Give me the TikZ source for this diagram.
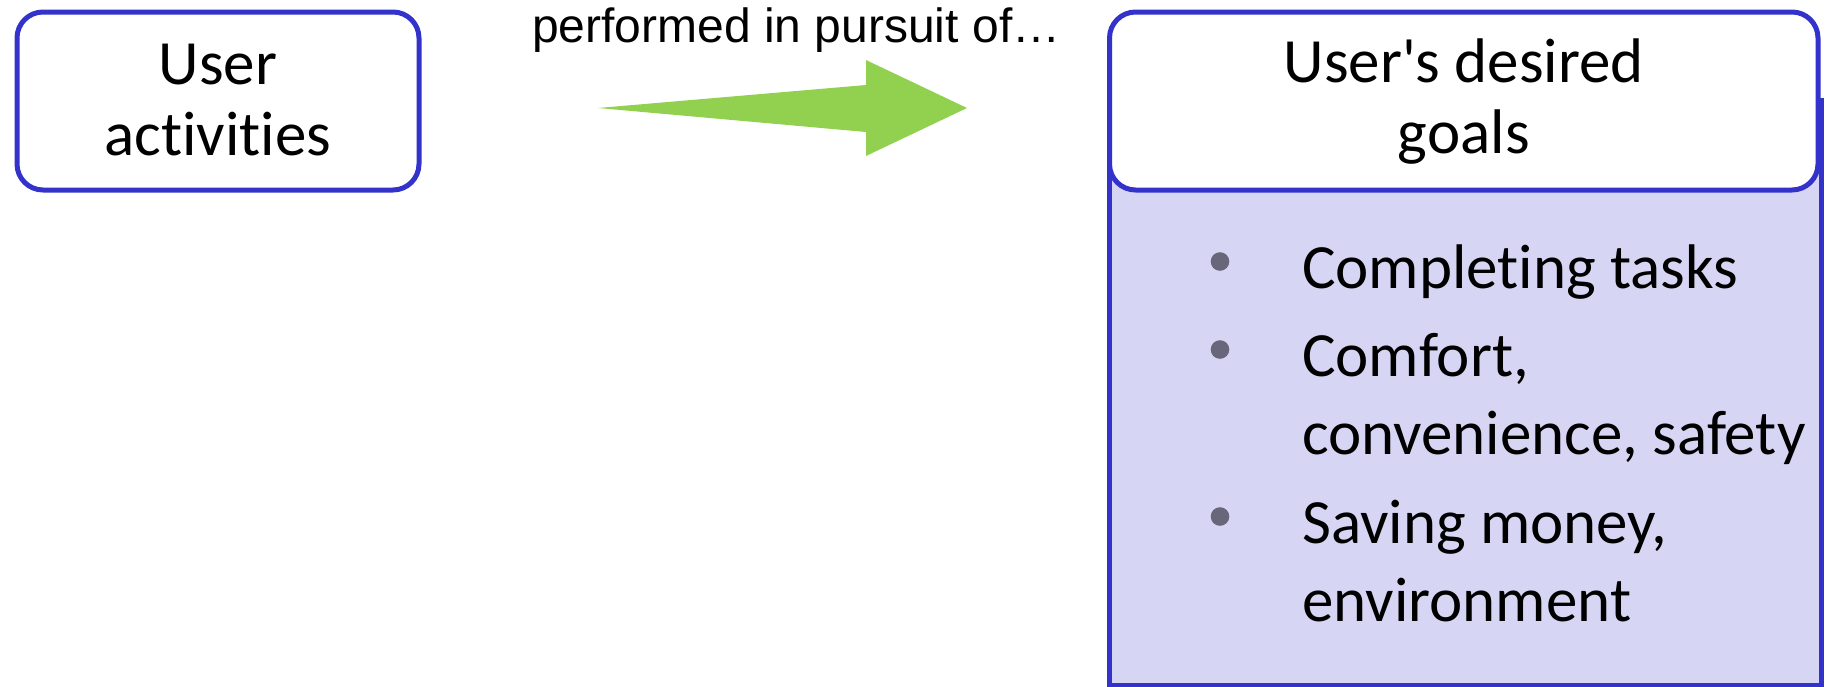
\documentclass[tikz,border=0pt]{standalone}
\usepackage{fontspec}
\setmainfont{Carlito}[Ligatures={TeXOff,NoCommon}]
\newfontfamily\captionfont{Liberation Sans}
\usetikzlibrary{calc}

\definecolor{frameblue}{RGB}{51,51,204}
\definecolor{bodylav}{RGB}{214,214,244}
\definecolor{arrowgreen}{RGB}{146,208,80}
\definecolor{dotgray}{RGB}{104,102,122}

% struts that fix the height of the first line and the depth of the last one
\newcommand\capstrut{\rule{0pt}{45pt}}
\newcommand\descstrut{\rule[-8pt]{0pt}{8pt}}

\begin{document}
\begin{tikzpicture}[x=1pt,y=-1pt,
  titlebox/.style={draw=frameblue, line width=5pt, rounded corners=26pt,
    fill=white, inner sep=0pt, minimum height=178pt, align=center,
    font=\fontsize{63}{71}\selectfont},
  bodybox/.style={draw=frameblue, line width=5pt, fill=bodylav},
  itemtext/.style={anchor=north west, inner sep=0pt, align=left,
    font=\fontsize{63}{78}\selectfont},
  bulletdot/.style={fill=dotgray},
  bigarrow/.style={fill=arrowgreen},
  caption/.style={anchor=base west, inner sep=0pt,
    font=\captionfont\fontsize{48}{56}\selectfont}]
\useasboundingbox (0,0) rectangle (1826,686);

% left box
\node[titlebox, minimum width=402pt] (act) at (218,101)
  {\capstrut User\\activities\descstrut};

% right box: lavender body with a rounded white header on top
\draw[bodybox] (1109.5,100) rectangle (1821,685);
\node[titlebox, minimum width=708.5pt] (goals) at (1463.75,101)
  {\capstrut User's desired\\goals\descstrut};

% bullet items
\fill[bulletdot] (1220,261.5) circle (9.3pt);
\fill[bulletdot] (1220,349.5) circle (9.3pt);
\fill[bulletdot] (1220,516.5) circle (9.3pt);
\node[itemtext] (item1) at (1302,243) {\capstrut Completing tasks};
\node[itemtext] (item2) at (1302,331) {\capstrut Comfort,\\convenience, safety};
\node[itemtext] (item3) at (1302,498) {\capstrut Saving money,\\environment};

% tapered block arrow between the two boxes
\coordinate (arrowtail) at (598,108);
\coordinate (arrowtip) at (967,108);
\fill[bigarrow] (arrowtail) -- ($(arrowtip)+(-101,-23)$) -- ($(arrowtip)+(-101,-48)$)
  -- (arrowtip) -- ($(arrowtip)+(-101,48)$) -- ($(arrowtip)+(-101,24)$) -- cycle;
\node[caption] (pursuit) at (532,42) {performed in pursuit of…};
\end{tikzpicture}
\end{document}
